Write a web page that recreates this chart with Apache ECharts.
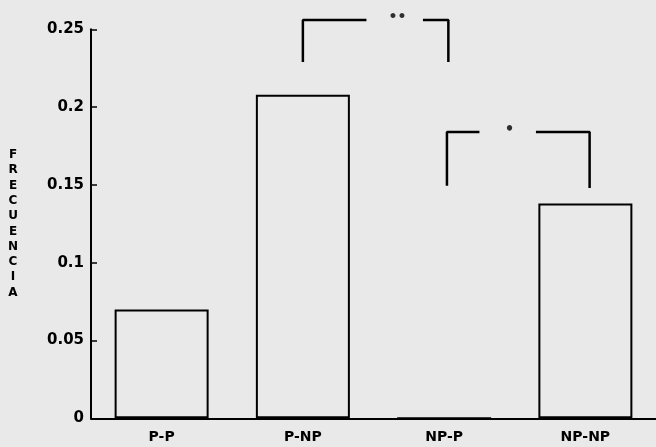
<!DOCTYPE html>
<html>
<head>
<meta charset="utf-8">
<script src="https://cdn.jsdelivr.net/npm/echarts@6/dist/echarts.min.js"></script>
<style>
html,body{margin:0;padding:0;background:#e9e9e9;}
#chart{width:656px;height:447px;}
</style>
</head>
<body>
<div id="chart"></div>
<script>
// Data
const categories = ['P-P', 'P-NP', 'NP-P', 'NP-NP'];
const frecuencia = [0.070, 0.208, 0, 0.138];
const yTicks = [0, 0.05, 0.1, 0.15, 0.2, 0.25];
const yTitle = 'FRECUENCIA';
// significance brackets, x in category-index units, y in frequency units
const bracket1Left = [[1.00, 0.229], [1.00, 0.256], [1.45, 0.256]];
const bracket1Right = [[1.85, 0.256], [2.03, 0.256], [2.03, 0.229]];
const bracket1Mark = {label: '••', at: [1.67, 0.2575]};
const bracket2Left = [[2.02, 0.1495], [2.02, 0.184], [2.25, 0.184]];
const bracket2Right = [[2.65, 0.184], [3.03, 0.184], [3.03, 0.148]];
const bracket2Mark = {label: '•', at: [2.463, 0.1855]};

const FONT = '"DejaVu Sans", sans-serif';
const chart = echarts.init(document.getElementById('chart'), null, {renderer: 'canvas'});

function bracketSeries(d) {
  return {
    type: 'line', xAxisIndex: 1, yAxisIndex: 0, data: d, clip: false,
    symbol: 'none', silent: true, animation: false,
    lineStyle: {color: '#000', width: 2.5}, z: 5
  };
}
function markSeries(m, size) {
  return {
    type: 'scatter', xAxisIndex: 1, yAxisIndex: 0, data: [m.at], clip: false,
    symbolSize: 1, itemStyle: {color: 'rgba(0,0,0,0)'}, silent: true, animation: false,
    label: {show: true, position: 'inside', formatter: m.label, color: '#000',
      fontFamily: FONT, fontWeight: 'bold', fontSize: size}
  };
}

chart.setOption({
  backgroundColor: '#e9e9e9',
  animation: false,
  grid: {left: 91, top: 29.3, width: 570, height: 389},
  xAxis: [{
    type: 'category', data: categories, boundaryGap: true,
    axisLine: {lineStyle: {color: '#000', width: 2}},
    axisTick: {inside: true, alignWithLabel: true, length: 6, lineStyle: {color: '#000', width: 1.5}},
    axisLabel: {color: '#000', fontFamily: FONT, fontWeight: 'bold', fontSize: 14, margin: 12}
  }, {
    type: 'value', min: -0.5, max: 3.5, show: false
  }],
  yAxis: {
    type: 'value', min: yTicks[0], max: yTicks[yTicks.length - 1], interval: 0.05,
    axisLine: {show: true, onZero: false, lineStyle: {color: '#000', width: 2}},
    axisTick: {show: true, inside: true, length: 6, lineStyle: {color: '#000', width: 1.5}},
    splitLine: {show: false},
    axisLabel: {color: '#000', fontFamily: FONT, fontWeight: 'bold', fontSize: 15, margin: 7,
      formatter: v => String(+v.toFixed(2))},
    name: yTitle.split('').join('\n'),
    nameLocation: 'middle', nameRotate: 0, nameGap: 78,
    nameTextStyle: {color: '#000', fontFamily: FONT, fontWeight: 'bold', fontSize: 12,
      lineHeight: 15.3, align: 'center', verticalAlign: 'middle'}
  },
  series: [{
    type: 'bar', data: frecuencia, barWidth: 94,
    itemStyle: {color: 'rgba(0,0,0,0)', borderColor: '#000', borderWidth: 2},
    z: 3
  },
  bracketSeries(bracket1Left), bracketSeries(bracket1Right),
  bracketSeries(bracket2Left), bracketSeries(bracket2Right),
  markSeries(bracket1Mark, 14), markSeries(bracket2Mark, 15)]
});
</script>
</body>
</html>
